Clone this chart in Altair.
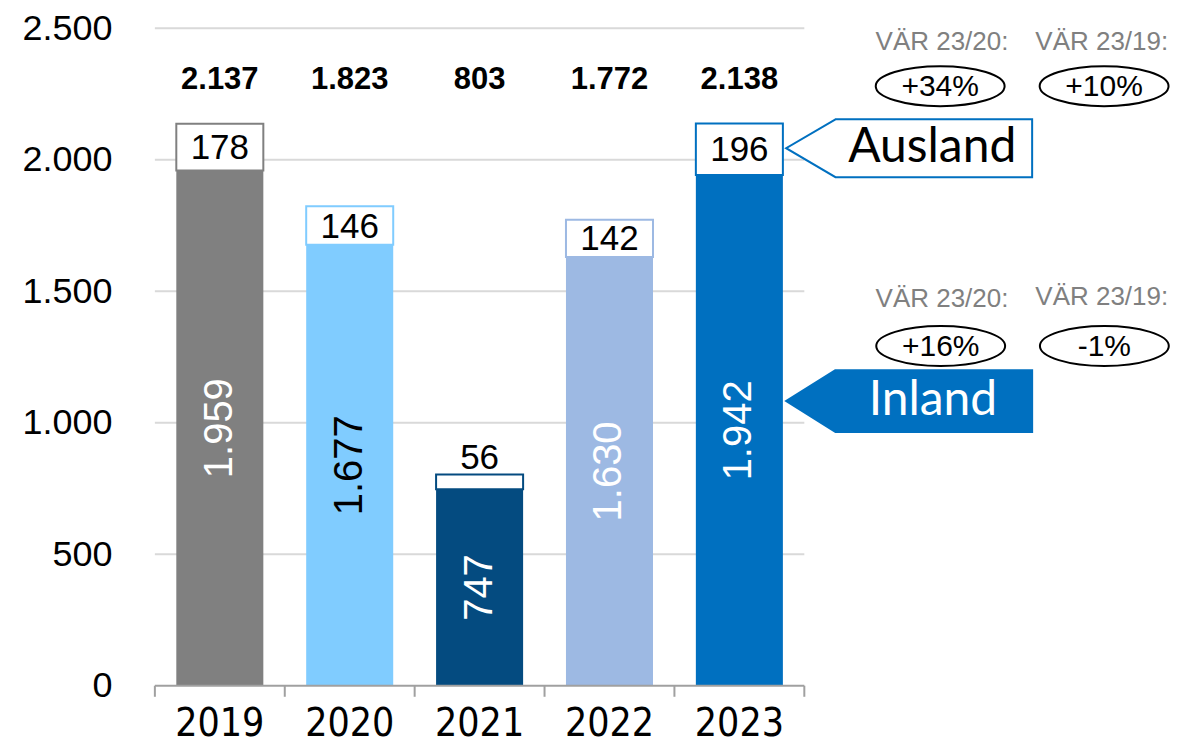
import altair as alt
import pandas as pd

# ---------------- data ----------------
years = ["2019", "2020", "2021", "2022", "2023"]
inland = [1959, 1677, 747, 1630, 1942]
ausland = [178, 146, 56, 142, 196]
bar_colors = ["#808080", "#80CCFF", "#044B80", "#9DB9E3", "#0070C0"]
inland_text_colors = ["white", "black", "white", "white", "white"]
y_ticks = [0, 500, 1000, 1500, 2000, 2500]
change_headers = ["VÄR 23/20:", "VÄR 23/19:"]
ausland_changes = ["+34%", "+10%"]
inland_changes = ["+16%", "-1%"]
callout_labels = ["Ausland", "Inland"]


def de(n):
    return f"{n:,}".replace(",", ".")


HALF = 0.335
pos = list(range(len(years)))
totals = [i + a for i, a in zip(inland, ausland)]
bars = pd.DataFrame({
    "year": years,
    "pos": pos,
    "x0": [p - HALF for p in pos],
    "x1": [p + HALF for p in pos],
    "inland": inland,
    "ausland": ausland,
    "total": totals,
    "mid_in": [v / 2 for v in inland],
    "mid_out": [i + a / 2 for i, a in zip(inland, ausland)],
    "lab_in": [de(v) for v in inland],
    "lab_out": [de(v) for v in ausland],
    "lab_tot": [de(v) for v in totals],
    "color": bar_colors,
    "tcolor": inland_text_colors,
})
bars["zero"] = 0
bars["tot_y"] = 2302

xscale = alt.Scale(domain=[-0.5, 7.3], nice=False, zero=False)
yscale = alt.Scale(domain=[0, 2500], nice=False, zero=True)
yaxis = alt.Axis(
    values=y_ticks,
    labelExpr="replace(format(datum.value, ','), ',', '.')",
    grid=False, domain=False, ticks=False, title=None,
    labelFontSize=36, labelFont="Liberation Sans", labelColor="black",
    labelPadding=43,
)


def X(f):
    return alt.X(f, type="quantitative", scale=xscale, axis=None)


def Y(f):
    return alt.Y(f, type="quantitative", scale=yscale, axis=yaxis)


base = alt.Chart(bars)

# gridlines
grid_df = pd.DataFrame({"y": y_ticks[1:]})
grid_df["x0"] = -0.5
grid_df["x1"] = len(years) - 0.5
grid = alt.Chart(grid_df).mark_rule(color="#D9D9D9", strokeWidth=2).encode(
    x=X("x0"), x2="x1", y=Y("y"))

# bars
inland_bars = base.mark_bar().encode(
    x=X("x0"), x2="x1", y=Y("zero"), y2="inland",
    color=alt.Color("color:N", scale=None))
ausland_bars = base.mark_bar(fill="white", strokeWidth=2).encode(
    x=X("x0"), x2="x1", y=Y("inland"), y2="total",
    stroke=alt.Stroke("color:N", scale=None))

# x axis (custom)
axis_df = pd.DataFrame({"x0": [-0.5], "x1": [len(years) - 0.5], "y": [0]})
axis_line = alt.Chart(axis_df).mark_rule(color="#A0A0A0", strokeWidth=2).encode(
    x=X("x0"), x2="x1", y=Y("y"))
tick_df = pd.DataFrame({"x": [p - 0.5 for p in range(len(years) + 1)]})
tick_df["y0"] = 0
tick_df["y1"] = -42
ticks = alt.Chart(tick_df).mark_rule(color="#A0A0A0", strokeWidth=2).encode(
    x=X("x"), y=Y("y0"), y2="y1")
year_labels = base.mark_text(
    font="Liberation Sans Narrow, DejaVu Sans Condensed, Liberation Sans", fontSize=39,
    color="black", baseline="middle", dy=38).encode(
    x=X("pos"), y=Y("zero"), text="year:N")

# value labels
inland_text = base.mark_text(
    font="Liberation Sans", fontSize=40, angle=270, baseline="middle").encode(
    x=X("pos"), y=Y("mid_in"), text="lab_in:N",
    color=alt.Color("tcolor:N", scale=None))
ausland_text_in = base.transform_filter("datum.ausland >= 100").mark_text(
    font="Liberation Sans", fontSize=35, color="black", baseline="middle", dy=1).encode(
    x=X("pos"), y=Y("mid_out"), text="lab_out:N")
ausland_text_above = base.transform_filter("datum.ausland < 100").mark_text(
    font="Liberation Sans", fontSize=35, color="black", baseline="alphabetic", dy=-6).encode(
    x=X("pos"), y=Y("total"), text="lab_out:N")
total_text = base.mark_text(
    font="Liberation Sans Narrow, Liberation Sans", fontSize=31,
    fontWeight="bold", color="black", baseline="middle").encode(
    x=X("pos"), y=Y("tot_y"), text="lab_tot:N")

# change annotations
hdr_df = pd.DataFrame({
    "text": change_headers + change_headers,
    "x": [5.56, 6.79, 5.56, 6.79],
    "y": [2447, 2447, 1472, 1478],
})
headers = alt.Chart(hdr_df).mark_text(
    font="Liberation Sans", fontSize=26, color="#808080", baseline="middle").encode(
    x=X("x"), y=Y("y"), text="text:N")

chg_df = pd.DataFrame({
    "text": ausland_changes + inland_changes,
    "x": [5.546, 6.808, 5.55, 6.81],
    "y": [2280, 2280, 1292, 1292],
})
ellipse_path = "M -1 0 A 1 0.31 0 1 1 1 0 A 1 0.31 0 1 1 -1 0 Z"
ellipses = alt.Chart(chg_df).mark_point(
    shape=ellipse_path, size=129 * 129, filled=False, stroke="black",
    strokeWidth=2, opacity=1).encode(x=X("x"), y=Y("y"))
chg_text = alt.Chart(chg_df).mark_text(
    font="Liberation Sans", fontSize=30, color="black", baseline="middle", dy=1).encode(
    x=X("x"), y=Y("y"), text="text:N")

# callouts
aus_df = pd.DataFrame({"y": [1934, 2044, 2154], "xl": [4.74, 4.36, 4.74], "xr": [6.254] * 3})
aus_box = alt.Chart(aus_df).mark_area(
    orient="horizontal", fill="white", stroke="#0070C0", strokeWidth=2).encode(
    y=Y("y"), x=X("xl"), x2="xr")
inl_df = pd.DataFrame({"y": [965, 1083, 1200], "xl": [4.74, 4.36, 4.74], "xr": [6.254] * 3})
inl_box = alt.Chart(inl_df).mark_area(
    orient="horizontal", fill="#0070C0", stroke="#0070C0", strokeWidth=2).encode(
    y=Y("y"), x=X("xl"), x2="xr")
call_df = pd.DataFrame({
    "text": callout_labels,
    "x": [5.485, 5.49],
    "y": [2044, 1083],
    "c": ["black", "white"],
})
call_text = alt.Chart(call_df).mark_text(
    font="Lato", fontSize=48, baseline="middle").encode(
    x=X("x"), y=Y("y"), text="text:N", color=alt.Color("c:N", scale=None))

chart = alt.layer(
    grid, inland_bars, ausland_bars, axis_line, ticks, year_labels,
    inland_text, ausland_text_in, ausland_text_above, total_text,
    headers, ellipses, chg_text, aus_box, inl_box, call_text,
).properties(
    width=1014, height=658,
    padding={"left": 147, "top": 20, "right": 2, "bottom": 61},
    autosize=alt.AutoSizeParams(type="none"),
).configure_view(stroke=None)

chart.save("out.html", embed_options={"renderer": "svg", "actions": False})
